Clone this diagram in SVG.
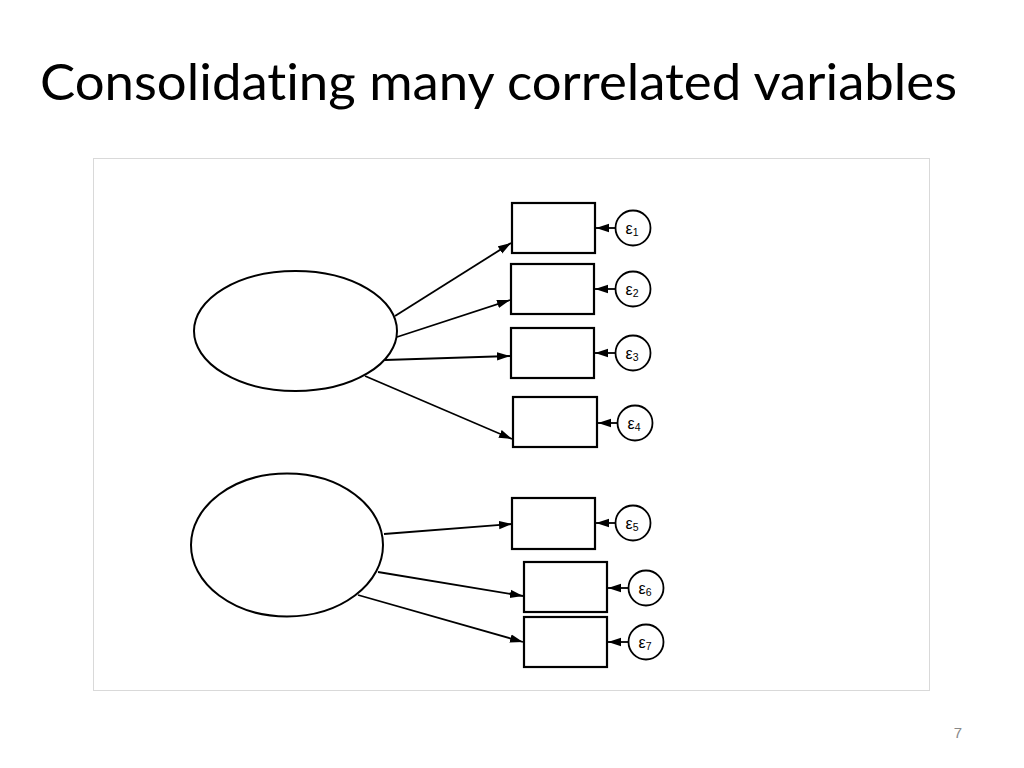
<svg xmlns="http://www.w3.org/2000/svg" width="1024" height="768" viewBox="0 0 1024 768">
<defs>
<marker id="ah2" viewBox="0 0 13 10" refX="13" refY="5" markerWidth="13" markerHeight="10" markerUnits="userSpaceOnUse" orient="auto">
<path d="M0,0.8 L13,5 L0,9.2 Z" fill="#000"/>
</marker>
</defs>
<style>
.box{fill:#fff;stroke:#000;stroke-width:2.2}
.lat{fill:#fff;stroke:#000;stroke-width:2}
.err{fill:#fff;stroke:#000;stroke-width:1.8}
.con{stroke:#000;stroke-width:1.8;fill:none;marker-end:url(#ah2)}
.eps{font-family:"Liberation Sans",Arial,sans-serif;font-size:16px;fill:#000}
.sub{font-size:10.5px}
.title{font-variant-ligatures:none;font-feature-settings:"liga" 0,"clig" 0}
</style>
<rect width="1024" height="768" fill="#fff"/>
<text class="title" x="40" y="100" font-family="Lato, 'Liberation Sans', sans-serif" font-size="51" textLength="917" lengthAdjust="spacingAndGlyphs" fill="#000">Consolidating many correlated variables</text>
<rect x="93.5" y="158.5" width="836" height="532" fill="#fff" stroke="#d9d9d9" stroke-width="1"/>
<g id="connectors">
<line class="con" x1="395" y1="316" x2="511" y2="243"/>
<line class="con" x1="397" y1="337" x2="510" y2="300"/>
<line class="con" x1="385" y1="360" x2="510" y2="356"/>
<line class="con" x1="365" y1="376" x2="512" y2="439"/>
<line class="con" x1="384" y1="534" x2="512" y2="524"/>
<line class="con" x1="378" y1="572" x2="523" y2="596"/>
<line class="con" x1="358" y1="595" x2="523" y2="642"/>
<line class="con" x1="615" y1="228" x2="596" y2="228"/>
<line class="con" x1="615" y1="289" x2="595" y2="289"/>
<line class="con" x1="615" y1="353" x2="595" y2="353"/>
<line class="con" x1="617" y1="423" x2="598" y2="423"/>
<line class="con" x1="615" y1="523" x2="596" y2="523"/>
<line class="con" x1="628" y1="588" x2="608" y2="588"/>
<line class="con" x1="628" y1="642" x2="608" y2="642"/>
</g>
<g id="latent1"><ellipse class="lat" cx="295.5" cy="331" rx="101.5" ry="60"/></g>
<g id="latent2"><ellipse class="lat" cx="287" cy="545" rx="96" ry="71.5"/></g>
<g id="x1"><rect class="box" x="512" y="203" width="83" height="50"/></g>
<g id="x2"><rect class="box" x="511" y="264" width="83" height="50"/></g>
<g id="x3"><rect class="box" x="511" y="328" width="83" height="50"/></g>
<g id="x4"><rect class="box" x="513" y="397" width="84" height="50"/></g>
<g id="x5"><rect class="box" x="512" y="498" width="83" height="51"/></g>
<g id="x6"><rect class="box" x="524" y="562" width="83" height="50"/></g>
<g id="x7"><rect class="box" x="524" y="617" width="83" height="50"/></g>
<g id="e1"><circle class="err" cx="633" cy="228" r="17.5"/><text class="eps" x="625.5" y="234">ε<tspan class="sub" dy="1.5">1</tspan></text></g>
<g id="e2"><circle class="err" cx="633" cy="289" r="17.5"/><text class="eps" x="625.5" y="295">ε<tspan class="sub" dy="1.5">2</tspan></text></g>
<g id="e3"><circle class="err" cx="633" cy="353" r="17.5"/><text class="eps" x="625.5" y="359">ε<tspan class="sub" dy="1.5">3</tspan></text></g>
<g id="e4"><circle class="err" cx="635" cy="423" r="17.5"/><text class="eps" x="627.5" y="429">ε<tspan class="sub" dy="1.5">4</tspan></text></g>
<g id="e5"><circle class="err" cx="633" cy="523" r="17.5"/><text class="eps" x="625.5" y="529">ε<tspan class="sub" dy="1.5">5</tspan></text></g>
<g id="e6"><circle class="err" cx="646" cy="588" r="17.5"/><text class="eps" x="638.5" y="594">ε<tspan class="sub" dy="1.5">6</tspan></text></g>
<g id="e7"><circle class="err" cx="646" cy="642" r="17.5"/><text class="eps" x="638.5" y="648">ε<tspan class="sub" dy="1.5">7</tspan></text></g>
<text x="958" y="738" text-anchor="middle" font-family="Liberation Sans, Arial, sans-serif" font-size="15" fill="#888">7</text>
</svg>
